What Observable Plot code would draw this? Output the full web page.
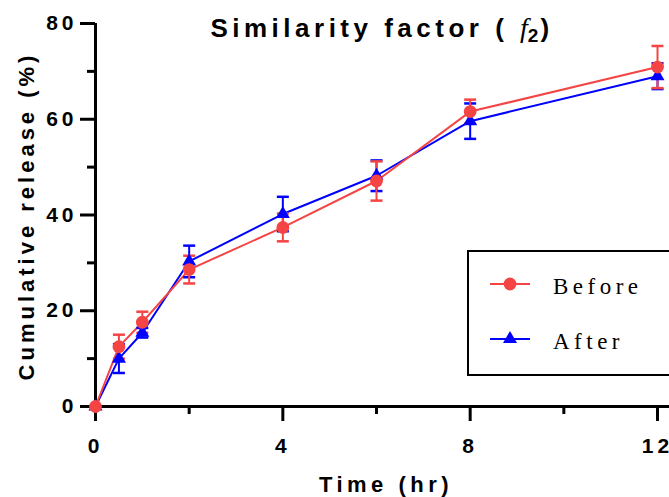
<!DOCTYPE html>
<html>
<head>
<meta charset="utf-8">
<script src="https://cdn.jsdelivr.net/npm/d3@7"></script>
<script src="https://cdn.jsdelivr.net/npm/@observablehq/plot@0.6"></script>
<style>
  html, body { margin: 0; padding: 0; background: #fff; }
  #chart svg { display: block; }
</style>
</head>
<body>
<div id="chart"></div>
<script>
// ---- data ----
const times = [0, 0.5, 1, 2, 4, 6, 8, 12];
const beforeMean = [0, 12.5, 17.6, 28.6, 37.4, 47.1, 61.6, 70.9];
const beforeErr  = [0, 2.5, 2.2, 2.9, 2.9, 4.1, 2.5, 4.4];
const afterMean  = [0, 10.0, 15.4, 30.3, 40.2, 48.2, 59.6, 69.0];
const afterErr   = [0, 3.0, 1.0, 3.3, 3.6, 3.2, 3.7, 2.7];
const seriesNames = ["Before", "After"];
const xMajorTicks = [0, 4, 8, 12];
const xMinorTicks = [2, 6, 10];
const yMajorTicks = [0, 20, 40, 60, 80];
const yMinorTicks = [10, 30, 50, 70];

const RED = "#f44444";
const BLUE = "#0000ff";

const before = times.map((t, i) => ({time: t, mean: beforeMean[i], err: beforeErr[i], series: seriesNames[0]}));
const after  = times.map((t, i) => ({time: t, mean: afterMean[i],  err: afterErr[i],  series: seriesNames[1]}));

const cap = {draw(ctx) { ctx.moveTo(-6, 0); ctx.lineTo(6, 0); }};

function errMarks(data, color) {
  return [
    Plot.ruleX(data.filter(d => d.err > 0), {x: "time", y1: d => d.mean - d.err, y2: d => d.mean + d.err, stroke: color, strokeWidth: 2}),
    Plot.dot(data.filter(d => d.err > 0), {x: "time", y: d => d.mean + d.err, symbol: cap, stroke: color, strokeWidth: 2.5, fill: "none"}),
    Plot.dot(data.filter(d => d.err > 0), {x: "time", y: d => d.mean - d.err, symbol: cap, stroke: color, strokeWidth: 2.5, fill: "none"})
  ];
}

const chart = Plot.plot({
  width: 669,
  height: 497,
  marginLeft: 95,
  marginRight: 0,
  marginTop: 23,
  marginBottom: 91,
  x: {domain: [0, 12.256]},
  y: {domain: [0, 80]},
  style: {fontFamily: "'Liberation Sans', Arial, sans-serif", background: "#fff", color: "#000"},
  marks: [
    Plot.axisY(yMajorTicks, {tickSize: 15, tickPadding: 3, strokeWidth: 3, fontSize: 21, fontWeight: "bold", label: null}),
    Plot.axisY(yMinorTicks, {tickSize: 8, strokeWidth: 3, tickFormat: () => "", label: null}),
    Plot.axisX(xMajorTicks, {tickSize: 15, tickPadding: 17, strokeWidth: 3, fontSize: 21, fontWeight: "bold", label: null}),
    Plot.axisX(xMinorTicks, {tickSize: 8, strokeWidth: 3, tickFormat: () => "", label: null}),
    Plot.ruleX([0], {y1: 0, y2: 80, strokeWidth: 3}),
    Plot.ruleY([0], {strokeWidth: 3}),
    Plot.line(after, {x: "time", y: "mean", stroke: BLUE, strokeWidth: 2}),
    Plot.line(before, {x: "time", y: "mean", stroke: RED, strokeWidth: 2}),
    ...errMarks(after, BLUE),
    ...errMarks(before, RED),
    Plot.dot(after, {x: "time", y: "mean", symbol: "triangle", r: 5.2, fill: BLUE, stroke: "none"}),
    Plot.dot(before, {x: "time", y: "mean", symbol: "circle", r: 6.4, fill: RED, stroke: "none"})
  ]
});

const svg = d3.select(chart);
// tick labels: bold, larger, spaced
svg.selectAll("text")
  .attr("letter-spacing", 4)
  .style("font-size", "21px")
  .style("font-weight", "bold");

// Title
const title = svg.append("text")
  .attr("x", 382).attr("y", 37)
  .attr("text-anchor", "middle")
  .attr("font-family", "'Liberation Sans', Arial, sans-serif")
  .attr("font-weight", "bold").attr("font-size", 26)
  .attr("letter-spacing", 4.5)
  .attr("fill", "#000");
title.append("tspan").text("Similarity factor ( ");
title.append("tspan").attr("font-family", "'Liberation Serif', 'Times New Roman', serif").attr("font-style", "italic").attr("font-weight", "normal").attr("font-size", 28).attr("letter-spacing", 0).text("f");
title.append("tspan").attr("font-size", 19).attr("dy", 5).attr("letter-spacing", 0).text("2");
title.append("tspan").attr("dy", -5).attr("dx", 2).text(")");

// Y axis label
svg.append("text")
  .attr("transform", "translate(34,216) rotate(-90)")
  .attr("text-anchor", "middle")
  .attr("font-family", "'Liberation Sans', Arial, sans-serif")
  .attr("font-weight", "bold").attr("font-size", 22)
  .attr("letter-spacing", 4)
  .attr("fill", "#000")
  .text("Cumulative release (%)");

// X axis label
svg.append("text")
  .attr("x", 386).attr("y", 492)
  .attr("text-anchor", "middle")
  .attr("font-family", "'Liberation Sans', Arial, sans-serif")
  .attr("font-weight", "bold").attr("font-size", 22)
  .attr("letter-spacing", 4.5)
  .attr("fill", "#000")
  .text("Time (hr)");

// Legend
const lg = svg.append("g");
lg.append("rect").attr("x", 468).attr("y", 251).attr("width", 220).attr("height", 124)
  .attr("fill", "#fff").attr("stroke", "#000").attr("stroke-width", 2);
const legendItems = [
  {name: seriesNames[0], color: RED, y: 284, sym: d3.symbol(d3.symbolCircle, Math.PI * 6.4 * 6.4)},
  {name: seriesNames[1], color: BLUE, y: 339, sym: d3.symbol(d3.symbolTriangle, Math.PI * 5.2 * 5.2)}
];
legendItems.forEach(it => {
  lg.append("line").attr("x1", 490).attr("x2", 530).attr("y1", it.y).attr("y2", it.y)
    .attr("stroke", it.color).attr("stroke-width", 2);
  lg.append("path").attr("d", it.sym()).attr("transform", `translate(510,${it.y})`).attr("fill", it.color);
  lg.append("text").attr("x", 553).attr("y", it.y + 10)
    .attr("text-anchor", "start")
    .attr("font-family", "'Liberation Serif', 'Times New Roman', serif")
    .attr("font-size", 23).attr("letter-spacing", 4.5).attr("fill", "#000")
    .text(it.name);
});

document.getElementById("chart").appendChild(chart);
</script>
</body>
</html>
